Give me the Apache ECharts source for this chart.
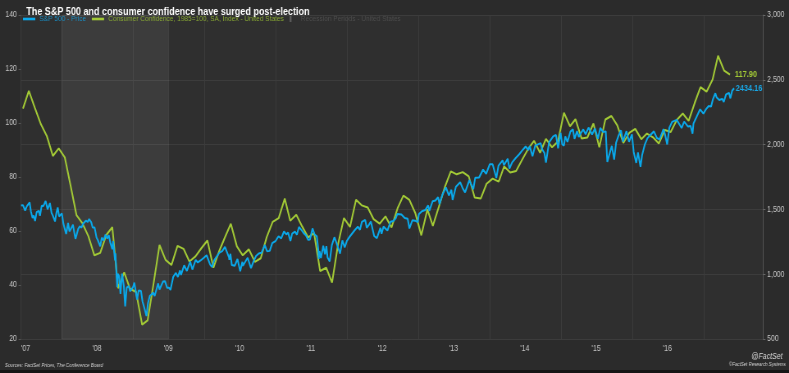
<!DOCTYPE html>
<html><head><meta charset="utf-8">
<script src="https://cdn.jsdelivr.net/npm/echarts@6/dist/echarts.min.js"></script>
<style>
html,body{margin:0;padding:0;background:#2b2b2b;overflow:hidden}
#wrap{width:789px;height:373px;overflow:hidden;position:relative}
#chart{width:962px;height:373px;transform:scaleX(0.82017);transform-origin:0 0}
</style></head><body><div id="wrap"><div id="chart"></div></div>
<script>
const titleText = 'The S&P 500 and consumer confidence have surged post-election';
const spName = 'S&P 500 - Price';
const ccName = 'Consumer Confidence, 1985=100, SA, Index - United States';
const recName = 'Recession Periods - United States';
const sourceText = 'Sources: FactSet Prices, The Conference Board';

// Consumer confidence, monthly from June 2007
const ccStart = [2007, 6];
const ccValues = [
  105.3,111.9,105.6,99.5,95.2,87.8,90.6,
  87.3,76.4,65.9,62.8,58.1,51.0,51.9,58.5,61.4,38.8,44.7,38.6,
  37.4,25.3,26.9,40.8,54.8,49.3,47.4,54.5,53.4,48.7,50.6,53.6,
  56.5,46.4,52.3,57.7,62.7,54.3,51.0,53.2,48.6,49.9,57.8,63.4,
  64.8,72.0,63.8,66.0,61.7,57.6,59.2,45.2,46.4,40.9,55.2,64.8,
  61.5,71.6,69.5,68.7,64.4,62.7,65.4,61.3,68.4,73.1,71.5,66.7,
  58.4,68.0,61.9,69.0,76.2,82.1,81.0,81.8,80.2,72.4,72.0,77.5,
  79.4,78.3,83.9,81.7,82.2,86.4,90.3,93.4,89.0,94.1,91.0,93.1,
  103.8,98.8,101.4,94.3,94.6,99.8,91.0,101.3,102.6,99.1,92.6,96.3,
  97.8,94.0,96.1,94.7,92.4,97.4,96.7,101.1,103.5,100.8,107.4,113.3,
  111.6,116.1,124.9,119.4,117.9
];

const spDates = [
'2007-06-05','2007-06-15','2007-06-26','2007-07-05','2007-07-19','2007-07-26','2007-08-03','2007-08-09','2007-08-16','2007-08-24',
'2007-09-04','2007-09-10','2007-09-19','2007-09-28','2007-10-09','2007-10-19','2007-10-31','2007-11-08','2007-11-15','2007-11-26',
'2007-12-03','2007-12-10','2007-12-17','2007-12-31','2008-01-08','2008-01-15','2008-01-22','2008-02-01','2008-02-08','2008-02-15',
'2008-02-26','2008-03-07','2008-03-10','2008-03-17','2008-03-24','2008-04-01','2008-04-10','2008-04-18','2008-05-02','2008-05-12',
'2008-05-19','2008-05-30','2008-06-06','2008-06-16','2008-06-26','2008-07-03','2008-07-15','2008-07-23','2008-08-01','2008-08-11',
'2008-08-20','2008-08-28','2008-09-05','2008-09-15','2008-09-19','2008-09-29','2008-10-01','2008-10-10','2008-10-13','2008-10-20',
'2008-10-27','2008-11-04','2008-11-13','2008-11-20','2008-11-28','2008-12-08','2008-12-15','2008-12-31','2009-01-06','2009-01-20',
'2009-01-28','2009-02-09','2009-02-17','2009-02-27','2009-03-09','2009-03-17','2009-03-26','2009-04-03','2009-04-13','2009-04-20',
'2009-05-08','2009-05-15','2009-06-02','2009-06-12','2009-06-23','2009-07-02','2009-07-10','2009-07-24','2009-08-07','2009-08-17',
'2009-08-28','2009-09-02','2009-09-18','2009-10-02','2009-10-19','2009-10-30','2009-11-16','2009-11-27','2009-12-11','2009-12-28',
'2010-01-11','2010-01-19','2010-01-29','2010-02-08','2010-02-19','2010-03-05','2010-03-18','2010-04-01','2010-04-15','2010-04-23',
'2010-05-06','2010-05-07','2010-05-13','2010-05-20','2010-05-25','2010-06-04','2010-06-18','2010-07-02','2010-07-13','2010-07-16',
'2010-07-30','2010-08-09','2010-08-26','2010-09-08','2010-09-21','2010-10-05','2010-10-19','2010-11-05','2010-11-16','2010-11-30',
'2010-12-13','2010-12-31','2011-01-14','2011-01-28','2011-02-11','2011-02-18','2011-02-23','2011-03-04','2011-03-16','2011-03-25',
'2011-04-08','2011-04-18','2011-04-29','2011-05-13','2011-05-23','2011-06-03','2011-06-15','2011-06-24','2011-07-07','2011-07-18',
'2011-07-29','2011-08-05','2011-08-08','2011-08-12','2011-08-19','2011-08-31','2011-09-09','2011-09-16','2011-09-22','2011-10-03',
'2011-10-14','2011-10-27','2011-11-04','2011-11-25','2011-12-07','2011-12-19','2011-12-30','2012-01-13','2012-01-27','2012-02-10',
'2012-02-24','2012-03-06','2012-03-16','2012-04-02','2012-04-10','2012-04-20','2012-05-01','2012-05-18','2012-06-01','2012-06-19',
'2012-06-25','2012-07-05','2012-07-25','2012-08-10','2012-08-24','2012-09-06','2012-09-14','2012-10-05','2012-10-22','2012-11-06',
'2012-11-15','2012-11-30','2012-12-14','2012-12-28','2013-01-02','2013-01-18','2013-02-04','2013-02-19','2013-02-25','2013-03-14',
'2013-03-28','2013-04-11','2013-04-18','2013-05-03','2013-05-21','2013-06-05','2013-06-18','2013-06-24','2013-07-11','2013-08-02',
'2013-08-15','2013-08-27','2013-09-18','2013-10-08','2013-10-18','2013-11-07','2013-11-27','2013-12-13','2013-12-31','2014-01-15',
'2014-02-03','2014-02-14','2014-03-07','2014-03-14','2014-04-02','2014-04-11','2014-04-25','2014-05-13','2014-05-30','2014-06-20',
'2014-07-03','2014-07-17','2014-07-24','2014-08-07','2014-08-21','2014-09-18','2014-09-25','2014-10-07','2014-10-15','2014-10-31',
'2014-11-21','2014-12-05','2014-12-16','2014-12-29','2015-01-06','2015-01-15','2015-01-22','2015-02-02','2015-02-17','2015-03-02',
'2015-03-10','2015-03-23','2015-04-01','2015-04-14','2015-04-24','2015-05-06','2015-05-21','2015-06-08','2015-06-23','2015-07-08',
'2015-07-20','2015-08-03','2015-08-17','2015-08-24','2015-08-25','2015-09-04','2015-09-17','2015-09-29','2015-10-09','2015-10-23',
'2015-11-03','2015-11-13','2015-12-01','2015-12-14','2015-12-29','2016-01-07','2016-01-20','2016-01-29','2016-02-11','2016-02-19',
'2016-03-04','2016-03-18','2016-04-01','2016-04-20','2016-05-05','2016-05-19','2016-06-08','2016-06-16','2016-06-27','2016-07-08',
'2016-07-22','2016-08-15','2016-09-09','2016-09-22','2016-10-12','2016-10-25','2016-11-04','2016-11-09','2016-11-25','2016-12-13',
'2016-12-30','2017-01-13','2017-01-26','2017-02-07','2017-02-17','2017-03-01','2017-03-08','2017-03-21','2017-04-05','2017-04-13',
'2017-04-25','2017-05-10','2017-05-17','2017-05-26','2017-06-05'
];
const spValues = [
1530,1533,1492,1525,1553,1482,1434,1453,1411,1479,
1489,1451,1529,1527,1565,1501,1549,1475,1452,1407,
1472,1515,1446,1468,1390,1380,1310,1395,1331,1349,
1381,1294,1273,1277,1350,1370,1360,1390,1413,1403,
1426,1400,1360,1360,1283,1262,1215,1282,1260,1305,
1275,1300,1242,1193,1255,1106,1161,899,1003,986,
848,1005,911,752,896,909,868,903,935,805,
874,870,789,735,677,778,832,842,858,832,
929,882,944,946,895,896,879,979,1010,979,
1029,994,1068,1025,1097,1036,1110,1091,1106,1127,
1146,1150,1074,1056,1109,1139,1166,1178,1211,1217,
1128,1111,1157,1071,1074,1065,1117,1022,1095,1065,
1102,1127,1047,1098,1140,1160,1166,1225,1178,1180,
1240,1258,1293,1276,1329,1343,1307,1321,1256,1314,
1328,1305,1364,1338,1317,1300,1265,1268,1353,1306,
1292,1200,1119,1179,1124,1219,1154,1216,1129,1099,
1225,1285,1253,1159,1261,1206,1258,1289,1316,1343,
1366,1343,1404,1419,1358,1379,1406,1295,1278,1357,
1313,1367,1337,1405,1411,1432,1465,1461,1434,1428,
1353,1416,1413,1402,1462,1486,1495,1531,1488,1563,
1569,1593,1541,1614,1669,1608,1651,1573,1675,1709,
1662,1631,1725,1655,1745,1747,1807,1775,1848,1848,
1742,1838,1878,1841,1891,1815,1863,1897,1924,1963,
1985,1958,1988,1910,1992,2011,1965,1935,1862,2018,
2064,2075,1972,2091,2003,1992,2063,2021,2100,2117,
2044,2104,2060,2095,2117,2080,2131,2079,2124,2046,
2128,2098,2102,1893,1867,1921,1990,1884,2015,2075,
2110,2023,2103,2022,2079,1943,1859,1940,1829,1918,
2000,2050,2073,2102,2051,2040,2119,2077,2001,2130,
2175,2191,2128,2177,2139,2143,2085,2163,2214,2272,
2239,2275,2297,2293,2351,2396,2363,2344,2353,2329,
2388,2399,2357,2416,2434.16
];

const yearLabelValues = [2007,2008,2009,2010,2011,2012,2013,2014,2015,2016];
const yearLineValues = [2008,2009,2010,2011,2012,2013,2014,2015,2016,2017];
const recessionSpan = ['2008-01-01','2009-07-01'];
const xRange = ['2007-06-05','2017-10-31'];

function toYear(s){
  const [y,m,d] = s.split('-').map(Number);
  const a = Date.UTC(y,0,1), b = Date.UTC(y+1,0,1);
  return y + (Date.UTC(y,m-1,d) - a)/(b-a);
}
const spData = spDates.map((d,i)=>[toYear(d), spValues[i]]);
const ccData = ccValues.map((v,i)=>{
  const mi = ccStart[1]-1+i;
  const y = ccStart[0] + Math.floor(mi/12), m = mi%12 + 1;
  return [toYear(y+'-'+String(m).padStart(2,'0')+'-15'), v];
});

const FONT = '"Liberation Sans", Arial, sans-serif';
const blue = '#0aa8ea', green = '#a2c936';
const chart = echarts.init(document.getElementById('chart'));
chart.setOption({
  backgroundColor: '#2b2b2b',
  animation: false,
  textStyle: {fontFamily: FONT},
  title: {
    text: titleText, left: 27, top: 1,
    textStyle: {color: '#ffffff', fontSize: 11, fontWeight: 'bold', fontFamily: FONT}
  },
  legend: {
    left: 28, top: 15, itemWidth: 15, itemHeight: 6, itemGap: 7, padding: 0,
    symbolKeepAspect: true,
    textStyle: {fontSize: 8, fontFamily: FONT},
    data: [
      {name: spName, icon: 'path://M0,0H15V2.6H0Z', itemStyle: {color: blue}, textStyle: {color: '#1a8ec4'}},
      {name: ccName, icon: 'path://M0,0H15V2.6H0Z', itemStyle: {color: green}, textStyle: {color: '#88a834'}},
      {name: recName, icon: 'path://M0,0H2.4V6H0Z', itemStyle: {color: '#5a5a5a'}, textStyle: {color: '#4d4d4d'}}
    ]
  },
  grid: {left: 25.6, right: 31.7, top: 15, bottom: 34, show: true, backgroundColor: '#2f2f2f', borderWidth: 0},
  xAxis: {
    type: 'value', min: toYear(xRange[0]), max: toYear(xRange[1]),
    axisLine: {show: false},
    axisTick: {show: false, customValues: yearLineValues},
    splitLine: {show: true, lineStyle: {color: '#3c3c3c', width: 1}},
    axisLabel: {
      customValues: yearLabelValues.map(y=>y+0.49), color: '#c4c4c4', fontSize: 8.5, margin: 5,
      formatter: v => "'" + String(Math.floor(v)).slice(2)
    }
  },
  yAxis: [
    {type: 'value', min: 20, max: 140, interval: 20, position: 'left',
     axisLine: {show: true, lineStyle: {color: '#3e3e3e'}},
     axisTick: {show: true, length: 3, lineStyle: {color: '#555'}},
     splitLine: {show: false},
     axisLabel: {color: '#c4c4c4', fontSize: 8.5, margin: 5}},
    {type: 'value', min: 500, max: 3000, interval: 500, position: 'right',
     axisLine: {show: true, lineStyle: {color: '#555'}},
     axisTick: {show: true, length: 3, lineStyle: {color: '#666'}},
     splitLine: {show: true, lineStyle: {color: '#3c3c3c', width: 1}},
     axisLabel: {color: '#c4c4c4', fontSize: 8.5, margin: 5, formatter: v => v.toLocaleString('en-US')}}
  ],
  series: [
    {name: recName, type: 'line', yAxisIndex: 0, data: [], z: 1,
     itemStyle: {color: '#5a5a5a'}, lineStyle: {color: '#5a5a5a'},
     markArea: {silent: true,
       itemStyle: {color: 'rgba(255,255,255,0.065)', borderColor: 'rgba(255,255,255,0.07)', borderWidth: 1},
       data: [[{xAxis: toYear(recessionSpan[0])}, {xAxis: toYear(recessionSpan[1])}]]}},
    {name: ccName, type: 'line', yAxisIndex: 0, data: ccData, showSymbol: false, z: 3,
     itemStyle: {color: green}, lineStyle: {color: green, width: 2},
     endLabel: {show: true, formatter: p => p.value[1].toFixed(2), color: green, fontSize: 9, fontWeight: 'bold', distance: 6}},
    {name: spName, type: 'line', yAxisIndex: 1, data: spData, showSymbol: false, z: 4,
     itemStyle: {color: blue}, lineStyle: {color: blue, width: 2},
     endLabel: {show: true, formatter: p => p.value[1].toFixed(2), color: '#19a6e4', fontSize: 9, fontWeight: 'bold', distance: 2}}
  ],
  graphic: [
    {type: 'text', left: 6, top: 362, style: {text: sourceText, fill: '#cfcfcf', fontSize: 5.6, fontStyle: 'italic', fontFamily: FONT}},
    {type: 'text', right: 8, top: 352, style: {text: '@FactSet', fill: '#d8d8d8', fontSize: 8.5, fontStyle: 'italic', fontFamily: FONT}},
    {type: 'text', right: 4, top: 362, style: {text: '©FactSet Research Systems', fill: '#cfcfcf', fontSize: 5.4, fontStyle: 'italic', fontFamily: FONT}},
    {type: 'rect', left: 0, top: 370, shape: {width: 962, height: 3}, style: {fill: '#151515'}, silent: true}
  ]
});
</script></body></html>
